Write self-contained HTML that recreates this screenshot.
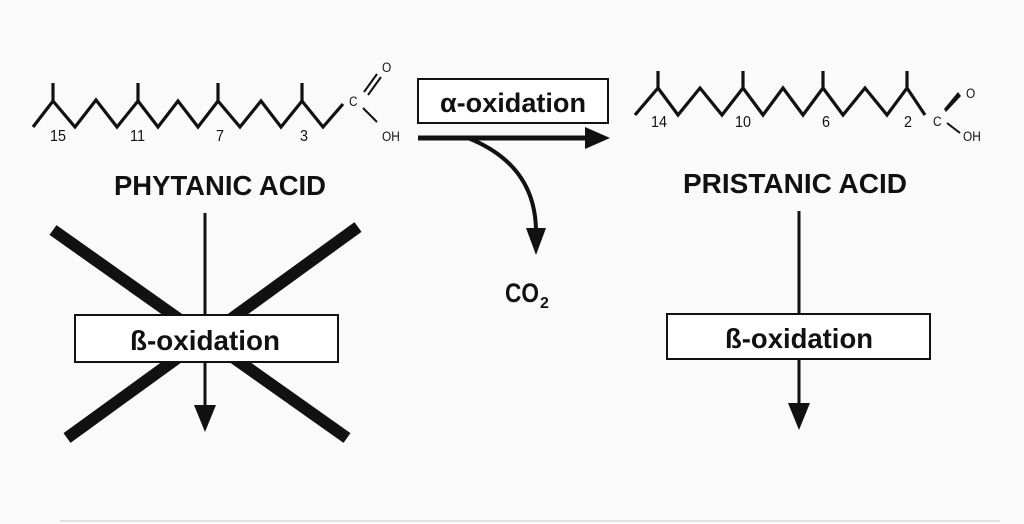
<!DOCTYPE html>
<html><head><meta charset="utf-8"><style>
html,body{margin:0;padding:0;background:#fafafa;}
svg{display:block;}
text{font-family:"Liberation Sans",sans-serif;fill:#111;}
</style></head><body>
<svg width="1024" height="524" viewBox="0 0 1024 524">
<rect width="1024" height="524" fill="#fafafa"/>
<line x1="60" y1="521" x2="1000" y2="521" stroke="#e2e2e2" stroke-width="2"/>
<g stroke="#111" stroke-width="3.2" fill="none" stroke-linejoin="miter">
<polyline points="33,127 53,101 75,127 96,100 117,127 138,101 158,127 178,101 198,127 218,101 240,127 261,101 281,127 302,101 323,127 343,104"/>
<line x1="53" y1="101" x2="53" y2="83"/><line x1="138" y1="101" x2="138" y2="83"/>
<line x1="218" y1="101" x2="218" y2="83"/><line x1="302" y1="101" x2="302" y2="83"/>
</g>
<g stroke="#111" stroke-width="2" fill="none">
<line x1="364" y1="92" x2="377" y2="74"/><line x1="368" y1="95" x2="381" y2="77"/>
<line x1="363" y1="108" x2="377" y2="122"/>
</g>
<text x="349" y="106" font-size="14" transform="translate(349 0) scale(0.85 1) translate(-349 0)">C</text>
<text x="382" y="72" font-size="14" transform="translate(382 0) scale(0.85 1) translate(-382 0)">O</text>
<text x="382" y="141" font-size="14" transform="translate(382 0) scale(0.85 1) translate(-382 0)">OH</text>
<g font-size="16">
<text x="50" y="141" textLength="16" lengthAdjust="spacingAndGlyphs">15</text><text x="130" y="141" textLength="15" lengthAdjust="spacingAndGlyphs">11</text><text x="216" y="141" textLength="8" lengthAdjust="spacingAndGlyphs">7</text><text x="300" y="141" textLength="8" lengthAdjust="spacingAndGlyphs">3</text>
</g>
<g stroke="#111" stroke-width="3.2" fill="none">
<polyline points="635,115 658,88 678,115 700,88 722,115 743,88 763,115 783,88 803,115 823,88 843,115 865,88 887,115 907,88 925,115"/>
<line x1="658" y1="88" x2="658" y2="71"/><line x1="743" y1="88" x2="743" y2="71"/>
<line x1="823" y1="88" x2="823" y2="71"/><line x1="907" y1="88" x2="907" y2="71"/>
</g>
<polygon points="944,109 946,112 961,96 958,92" fill="#111"/>
<line x1="947" y1="123" x2="960" y2="133" stroke="#111" stroke-width="2"/>
<text x="933" y="126" font-size="14" transform="translate(933 0) scale(0.85 1) translate(-933 0)">C</text>
<text x="966" y="98" font-size="14" transform="translate(966 0) scale(0.85 1) translate(-966 0)">O</text>
<text x="963" y="141" font-size="14" transform="translate(963 0) scale(0.85 1) translate(-963 0)">OH</text>
<g font-size="16">
<text x="651" y="127" textLength="16" lengthAdjust="spacingAndGlyphs">14</text><text x="735" y="127" textLength="16" lengthAdjust="spacingAndGlyphs">10</text><text x="822" y="127" textLength="8" lengthAdjust="spacingAndGlyphs">6</text><text x="904" y="127" textLength="8" lengthAdjust="spacingAndGlyphs">2</text>
</g>
<text x="220" y="195" font-size="28" font-weight="bold" text-anchor="middle" textLength="212" lengthAdjust="spacingAndGlyphs">PHYTANIC ACID</text>
<text x="795" y="193" font-size="28" font-weight="bold" text-anchor="middle" textLength="224" lengthAdjust="spacingAndGlyphs">PRISTANIC ACID</text>
<!-- alpha -->
<rect x="418" y="79" width="190" height="44" fill="#fff" stroke="#111" stroke-width="2"/>
<text x="513" y="112" font-size="27" font-weight="bold" text-anchor="middle" textLength="146" lengthAdjust="spacingAndGlyphs">α-oxidation</text>
<line x1="418" y1="138" x2="588" y2="138" stroke="#111" stroke-width="5"/>
<polygon points="585,127 610,138 585,149" fill="#111"/>
<path d="M468,138 Q536,165 536,232" stroke="#111" stroke-width="4" fill="none"/>
<polygon points="526,228 546,228 536,255" fill="#111"/>
<text x="505" y="302" font-size="27" font-weight="bold" textLength="34" lengthAdjust="spacingAndGlyphs">CO</text>
<text x="540" y="308" font-size="16" font-weight="bold">2</text>
<!-- left -->
<line x1="53" y1="230" x2="347" y2="438" stroke="#111" stroke-width="12"/>
<line x1="358" y1="227" x2="67" y2="438" stroke="#111" stroke-width="12"/>
<line x1="205" y1="213" x2="205" y2="408" stroke="#111" stroke-width="3"/>
<polygon points="194,405 216,405 205,432" fill="#111"/>
<rect x="75" y="315" width="263" height="47" fill="#fff" stroke="#111" stroke-width="2"/>
<text x="205" y="350" font-size="28" font-weight="bold" text-anchor="middle" textLength="150" lengthAdjust="spacingAndGlyphs">ß-oxidation</text>
<!-- right -->
<line x1="799" y1="211" x2="799" y2="406" stroke="#111" stroke-width="3"/>
<polygon points="788,403 810,403 799,430" fill="#111"/>
<rect x="667" y="314" width="263" height="45" fill="#fff" stroke="#111" stroke-width="2"/>
<text x="799" y="348" font-size="28" font-weight="bold" text-anchor="middle" textLength="148" lengthAdjust="spacingAndGlyphs">ß-oxidation</text>
</svg>
</body></html>
